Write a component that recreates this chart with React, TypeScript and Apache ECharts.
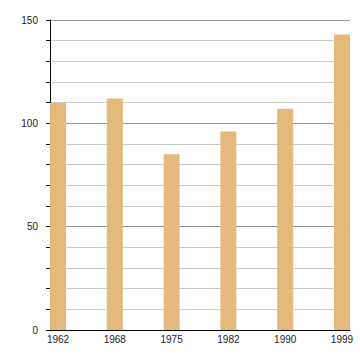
import React, { useEffect, useRef } from "react";
import * as echarts from "echarts";

const years = ["1962", "1968", "1975", "1982", "1990", "1999"];
const values = [110, 112, 85, 96, 107, 143];
const yTicks = [0, 50, 100, 150];

export default function App() {
  const ref = useRef<HTMLDivElement>(null);
  useEffect(() => {
    if (!ref.current) return;
    const chart = echarts.init(ref.current, undefined, { renderer: "svg" });
    const idx = years.map((_, i) => i);
    chart.setOption({
      animation: false,
      grid: { left: 50, right: 10, top: 20, bottom: 30, containLabel: false },
      xAxis: {
        type: "value",
        min: -0.141,
        max: 5.141,
        axisLine: { show: true, onZero: false, lineStyle: { color: "#000", width: 1 } },
        axisTick: { show: false },
        splitLine: { show: false },
        axisLabel: {
          customValues: idx,
          formatter: (v: number) => years[Math.round(v)] ?? "",
          color: "#222",
          fontSize: 10,
          fontFamily: "Liberation Sans, Arial, sans-serif",
          margin: 4,
        },
      },
      yAxis: {
        type: "value",
        min: yTicks[0],
        max: yTicks[yTicks.length - 1],
        interval: 50,
        axisLine: { show: true, onZero: false, lineStyle: { color: "#000", width: 1 } },
        axisTick: { show: true, inside: false, length: 4, lineStyle: { color: "#000" } },
        minorTick: { show: true, splitNumber: 5, length: 4, lineStyle: { color: "#000" } },
        splitLine: { show: true, lineStyle: { color: "#999", width: 1 } },
        minorSplitLine: { show: true, lineStyle: { color: "#ccc", width: 1 } },
        axisLabel: {
          inside: false,
          color: "#222",
          fontSize: 10,
          fontFamily: "Liberation Sans, Arial, sans-serif",
          margin: 12,
        },
      },
      series: [
        {
          type: "bar",
          barWidth: 16,
          itemStyle: { color: "#E5B87C" },
          data: values.map((v, i) => [i, v]),
        },
      ],
    });
    return () => chart.dispose();
  }, []);
  return (
    <div
      ref={ref}
      style={{ position: "fixed", left: 0, top: 0, width: 360, height: 360, background: "#fff" }}
    />
  );
}
